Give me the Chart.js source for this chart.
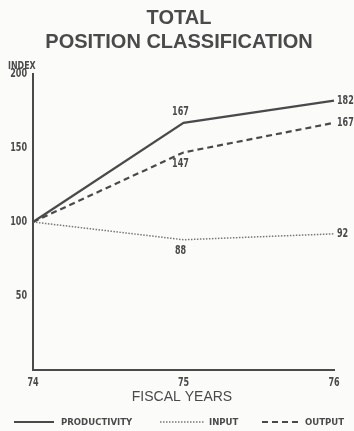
<!DOCTYPE html>
<html>
<head>
<meta charset="utf-8">
<script src="https://cdn.jsdelivr.net/npm/chart.js@4"></script>
<style>
html,body{margin:0;padding:0;background:#fbfbfa;}
#wrap{width:354px;height:431px;position:relative;}
</style>
</head>
<body>
<div id="wrap"><canvas id="c" width="354" height="431"></canvas></div>
<script>
const years = ['74', '75', '76'];
const productivity = [100, 167, 182];
const input = [100, 88, 92];
const output = [100, 147, 167];
const yTicks = [50, 100, 150, 200];
const titleLines = ['TOTAL', 'POSITION CLASSIFICATION'];
const xTitle = 'FISCAL YEARS';
const yTitle = 'INDEX';
const legendNames = ['PRODUCTIVITY', 'INPUT', 'OUTPUT'];

const INK = '#4a4a4a';
// condensed look: fonts whose family list starts with "CondNN" are drawn squeezed to NN%
const NARROW = '"Cond62", "DejaVu Sans", sans-serif';
const LEG = '"Cond90", "DejaVu Sans", sans-serif';
const IDX = '"Cond72", "DejaVu Sans", sans-serif';

(function () {
  const P = CanvasRenderingContext2D.prototype;
  const orig = P.fillText;
  P.fillText = function (t, x, y, mw) {
    const m = /Cond(\d+)/.exec(this.font);
    if (!m) return orig.call(this, t, x, y, mw);
    const s = parseInt(m[1], 10) / 100;
    this.save();
    this.translate(x, y);
    this.scale(s, 1);
    orig.call(this, t, 0, 0);
    this.restore();
  };
})();

const decor = {
  id: 'decor',
  afterDraw(chart) {
    const ctx = chart.ctx;
    const xs = chart.scales.x, ys = chart.scales.y;
    ctx.save();
    ctx.fillStyle = INK;
    // title
    ctx.textAlign = 'center';
    ctx.textBaseline = 'middle';
    ctx.font = 'bold 20px "Liberation Sans", Arial, sans-serif';
    ctx.fillText(titleLines[0], 179, 18);
    ctx.fillText(titleLines[1], 179, 42);
    // x title
    ctx.font = '14px "Liberation Sans", Arial, sans-serif';
    ctx.fillText(xTitle, 182, 397);
    // y title
    ctx.textAlign = 'left';
    ctx.font = 'bold 11px ' + IDX;
    ctx.fillText(yTitle, 8, 66);
    // data labels
    ctx.font = 'bold 13px ' + NARROW;
    const mid = 1, last = 2;
    const xm = xs.getPixelForValue(mid);
    ctx.textAlign = 'center';
    ctx.fillText(String(productivity[mid]), xm - 3, ys.getPixelForValue(productivity[mid]) - 11);
    ctx.fillText(String(output[mid]), xm - 3, ys.getPixelForValue(output[mid]) + 11);
    ctx.fillText(String(input[mid]), xm - 3, ys.getPixelForValue(input[mid]) + 11);
    const xl = xs.getPixelForValue(last) + 3;
    ctx.textAlign = 'left';
    ctx.fillText(String(productivity[last]), xl, ys.getPixelForValue(productivity[last]));
    ctx.fillText(String(output[last]), xl, ys.getPixelForValue(output[last]));
    ctx.fillText(String(input[last]), xl, ys.getPixelForValue(input[last]));
    // legend
    const ly = 422;
    const items = [
      {x0: 14, x1: 54, tx: 61, dash: [], w: 2, color: INK},
      {x0: 160, x1: 204, tx: 209, dash: [1.5, 1.5], w: 1.5, color: '#777'},
      {x0: 262, x1: 300, tx: 305, dash: [6, 4], w: 2, color: INK}
    ];
    ctx.font = 'bold 9.5px ' + LEG;
    items.forEach((it, i) => {
      ctx.beginPath();
      ctx.setLineDash(it.dash);
      ctx.lineWidth = it.w;
      ctx.strokeStyle = it.color;
      ctx.moveTo(it.x0, ly);
      ctx.lineTo(it.x1, ly);
      ctx.stroke();
      ctx.setLineDash([]);
      ctx.fillStyle = INK;
      ctx.textAlign = 'left';
      ctx.fillText(legendNames[i], it.tx, ly + 1);
    });
    ctx.restore();
  }
};

new Chart(document.getElementById('c'), {
  type: 'line',
  data: {
    labels: years,
    datasets: [
      {label: legendNames[0], data: productivity, borderColor: INK, borderWidth: 2.2, pointRadius: 0, tension: 0},
      {label: legendNames[1], data: input, borderColor: '#777', borderWidth: 1.5, borderDash: [1.5, 1.5], pointRadius: 0, tension: 0},
      {label: legendNames[2], data: output, borderColor: INK, borderWidth: 2.2, borderDash: [6, 4], pointRadius: 0, tension: 0}
    ]
  },
  options: {
    responsive: false,
    animation: false,
    layout: {padding: {top: 74, right: 20, left: 0, bottom: 0}},
    plugins: {legend: {display: false}, title: {display: false}, tooltip: {enabled: false}},
    scales: {
      x: {
        offset: false,
        grid: {display: false, drawTicks: false},
        border: {display: true, color: INK, width: 2},
        ticks: {color: INK, font: {family: NARROW, weight: 'bold', size: 13}, padding: 5, maxRotation: 0},
        afterFit(s) { s.height = 61; }
      },
      y: {
        min: 0, max: 200,
        afterBuildTicks(s) { s.ticks = yTicks.map(v => ({value: v})); },
        grid: {display: false, drawOnChartArea: false, drawTicks: true, tickLength: 5, tickColor: INK, tickWidth: 1.5},
        border: {display: true, color: INK, width: 2},
        ticks: {color: INK, font: {family: NARROW, weight: 'bold', size: 13}, padding: 1},
        afterFit(s) { s.width = 33; }
      }
    }
  },
  plugins: [decor]
});
</script>
</body>
</html>
